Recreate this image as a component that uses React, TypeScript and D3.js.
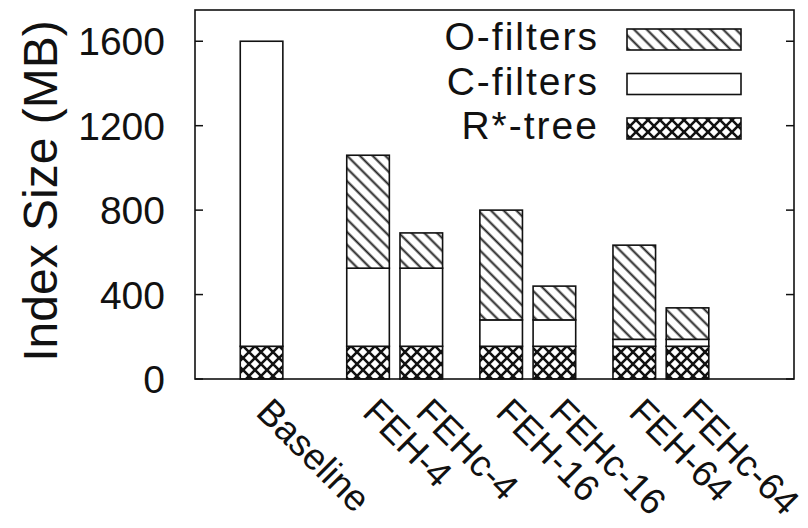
import React, { useEffect, useRef } from 'react'
import * as d3 from 'd3'

// bar labels, grouped the way they sit on the x axis
const categories = ['Baseline', 'FEH-4', 'FEHc-4', 'FEH-16', 'FEHc-16', 'FEH-64', 'FEHc-64']
const groups = ['base', '4', '16', '64']
const groupOf = ['base', '4', '4', '16', '16', '64', '64']
const variants = ['FEH', 'FEHc']
const variantOf = ['FEH', 'FEH', 'FEHc', 'FEH', 'FEHc', 'FEH', 'FEHc']

// index size in MB per component
const rtree = [155, 155, 155, 155, 155, 155, 155]
const cfilters = [1445, 370, 370, 125, 125, 33, 33]
const ofilters = [0, 535, 167, 520, 160, 446, 149]

const seriesNames = ['R*-tree', 'C-filters', 'O-filters']
const yTicks = [0, 400, 800, 1200, 1600]

const W = 808, H = 528
const FONT = '"Liberation Sans", Arial, sans-serif'

export default function App() {
    const ref = useRef<SVGSVGElement>(null)

    useEffect(() => {
        const svg = d3.select(ref.current)
        svg.selectAll('*').remove()

        const margin = {top: 10, right: 14, bottom: 149, left: 195}
        const plotW = W - margin.left - margin.right
        const plotH = H - margin.top - margin.bottom

        const y = d3.scaleLinear().domain([0, 1748]).range([plotH, 0])
        // the 4 groups take 10 of the 11.25 units of width, the rest is empty on the right
        const xGroup = d3.scaleBand().domain(groups).range([0, plotW * 10 / 11.25])
        const xInner = d3.scaleBand().domain(variants).range([0, xGroup.bandwidth()])
            .paddingInner(0.2).paddingOuter(0.35)
        const bw = xInner.bandwidth()

        const barX = (i: number) => {
            const g = groupOf[i]
            if (g === 'base') return xGroup(g)! + (xGroup.bandwidth() - bw) / 2
            return xGroup(g)! + xInner(variantOf[i])!
        }

        // patterns
        const defs = svg.append('defs')
        const hatch = defs.append('pattern')
            .attr('id', 'hatch')
            .attr('patternUnits', 'userSpaceOnUse')
            .attr('width', 9).attr('height', 9)
            .attr('patternTransform', 'rotate(-45)')
        hatch.append('rect').attr('width', 9).attr('height', 9).attr('fill', '#fff')
        hatch.append('line').attr('x1', 4.5).attr('y1', 0).attr('x2', 4.5).attr('y2', 9)
            .attr('stroke', '#222').attr('stroke-width', 2)

        const cross = defs.append('pattern')
            .attr('id', 'cross')
            .attr('patternUnits', 'userSpaceOnUse')
            .attr('width', 12).attr('height', 12)
        cross.append('rect').attr('width', 12).attr('height', 12).attr('fill', '#fff')
        cross.append('path').attr('d', 'M-1,-1L13,13M-1,13L13,-1')
            .attr('stroke', '#111').attr('stroke-width', 2.6)

        const fills = ['url(#cross)', '#fff', 'url(#hatch)']

        const g = svg.append('g')
            .attr('transform', 'translate(' + margin.left + ',' + margin.top + ')')

        const stackData = categories.map((c, i) => ({cat: i, r: rtree[i], c: cfilters[i], o: ofilters[i]}))
        const stacked = d3.stack<any>().keys(['r', 'c', 'o'])(stackData)

        stacked.forEach((layer, k) => {
            g.append('g').selectAll('rect')
                .data(layer.filter(d => d[1] - d[0] > 0))
                .enter().append('rect')
                .attr('x', d => barX(d.data.cat))
                .attr('y', d => y(d[1]))
                .attr('width', bw)
                .attr('height', d => y(d[0]) - y(d[1]))
                .attr('fill', fills[k])
                .attr('stroke', '#111')
                .attr('stroke-width', 1.6)
        })

        // frame
        g.append('rect')
            .attr('width', plotW).attr('height', plotH)
            .attr('fill', 'none').attr('stroke', '#111').attr('stroke-width', 1.6)

        // y ticks, mirrored on the right
        yTicks.forEach(t => {
            g.append('line').attr('x1', 0).attr('x2', 8).attr('y1', y(t)).attr('y2', y(t))
                .attr('stroke', '#111').attr('stroke-width', 1.5)
            g.append('line').attr('x1', plotW).attr('x2', plotW - 8).attr('y1', y(t)).attr('y2', y(t))
                .attr('stroke', '#111').attr('stroke-width', 1.5)
            g.append('text')
                .attr('x', -30).attr('y', y(t))
                .attr('dy', '0.36em')
                .attr('text-anchor', 'end')
                .attr('font-family', FONT).attr('font-size', 39)
                .attr('fill', '#111')
                .text(t)
        })

        // y axis title
        svg.append('text')
            .attr('transform', 'translate(57,' + (margin.top + 181) + ') rotate(-90)')
            .attr('text-anchor', 'middle')
            .attr('font-family', FONT).attr('font-size', 48)
            .attr('fill', '#111')
            .text('Index Size (MB)')

        // x labels, rotated
        categories.forEach((c, i) => {
            const cx = barX(i) + bw / 2
            g.append('text')
                .attr('transform', 'translate(' + (cx - 7) + ',' + (plotH + 35) + ') rotate(45)')
                .attr('font-family', FONT).attr('font-size', 37)
                .attr('fill', '#111')
                .text(c)
        })

        // legend, top to bottom: O, C, R
        const legendOrder = [2, 1, 0]
        legendOrder.forEach((k, row) => {
            const ly = 29 + row * 44.5
            svg.append('rect')
                .attr('x', 627).attr('y', ly).attr('width', 114).attr('height', 21)
                .attr('fill', fills[k]).attr('stroke', '#111').attr('stroke-width', 1.6)
            svg.append('text')
                .attr('x', 599).attr('y', ly + 21)
                .attr('text-anchor', 'end')
                .attr('font-family', FONT).attr('font-size', 39)
                .attr('letter-spacing', 2)
                .attr('fill', '#111')
                .text(seriesNames[k])
        })
    }, [])

    return (
        <svg ref={ref} width={W} height={H}
             style={{position: 'absolute', left: 0, top: 0, background: '#fff'}}></svg>
    )
}
